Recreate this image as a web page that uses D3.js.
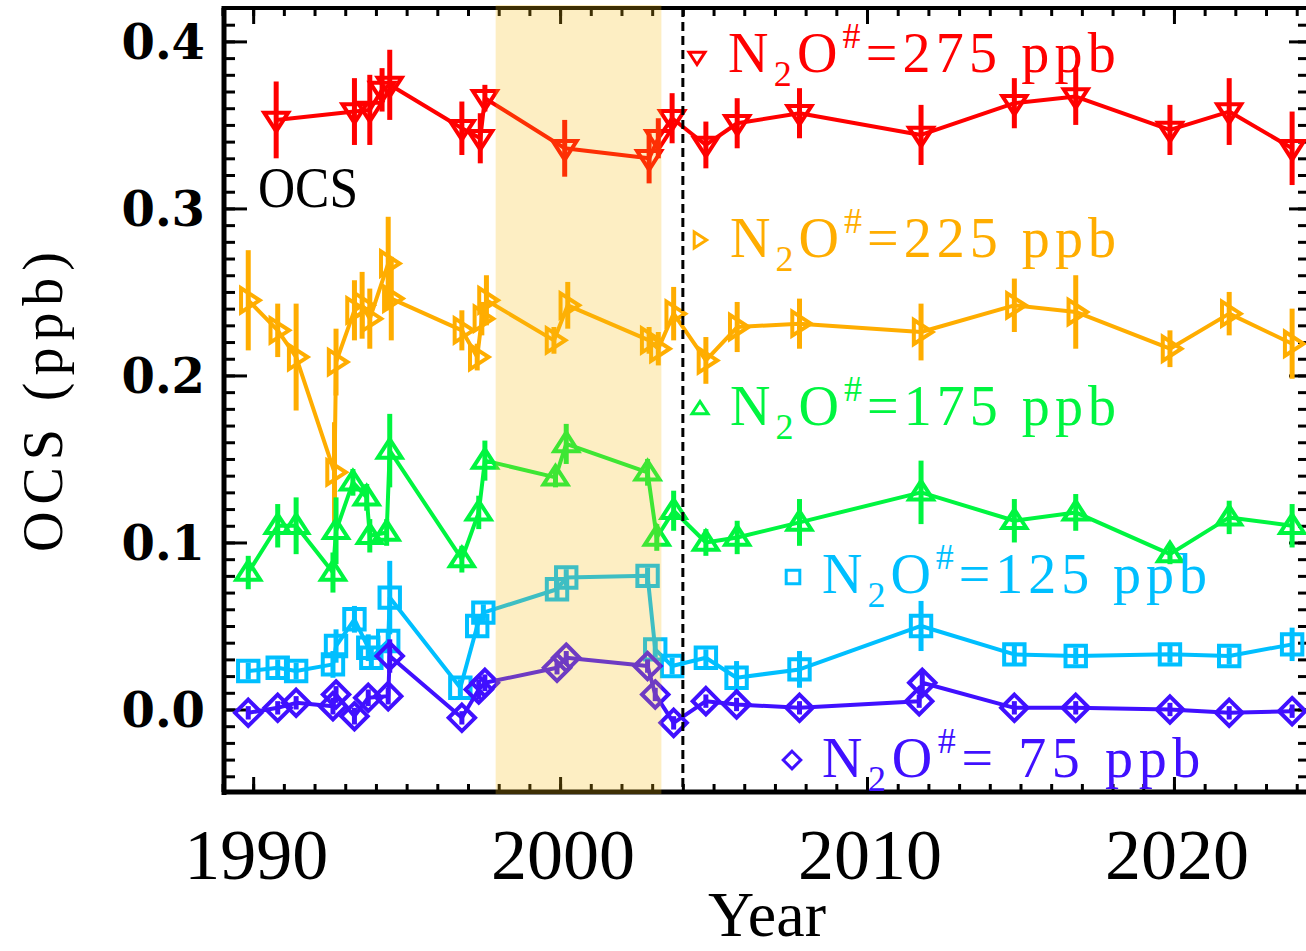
<!DOCTYPE html>
<html>
<head>
<meta charset="utf-8">
<script src="https://cdn.jsdelivr.net/npm/d3@7/dist/d3.min.js"></script>
<style>
    body { margin: 0; background: #ffffff; }
    svg { display: block; }
</style>
</head>
<body>
<svg class="OcsChart" width="1306" height="951"></svg>
<script>
// OCS time series for five N2O# levels
const years275 = [1990.75, 1993.3, 1993.8, 1994.2, 1994.45, 1996.8, 1997.4, 1997.55, 2000.15, 2002.9, 2003.2, 2003.65, 2004.75, 2005.77, 2007.8, 2011.76, 2014.8, 2016.8, 2019.87, 2021.8, 2023.85];
const ocs275 = [0.353, 0.358, 0.359, 0.371, 0.374, 0.348, 0.342, 0.366, 0.336, 0.330, 0.342, 0.354, 0.338, 0.351, 0.357, 0.344, 0.363, 0.367, 0.347, 0.358, 0.336];
const err275 = [0.023, 0.020, 0.021, 0.013, 0.021, 0.016, 0.015, 0.008, 0.017, 0.015, 0.012, 0.015, 0.014, 0.015, 0.015, 0.018, 0.015, 0.017, 0.015, 0.020, 0.022];

const years225 = [1989.84, 1990.8, 1991.4, 1992.65, 1992.7, 1993.3, 1993.55, 1993.8, 1994.4, 1994.5, 1996.8, 1997.3, 1997.45, 1997.6, 1999.8, 2000.25, 2002.9, 2003.2, 2003.7, 2004.75, 2005.77, 2007.8, 2011.76, 2014.8, 2016.8, 2019.87, 2021.8, 2023.85];
const ocs225 = [0.245, 0.227, 0.211, 0.142, 0.208, 0.239, 0.242, 0.234, 0.267, 0.246, 0.227, 0.211, 0.234, 0.245, 0.221, 0.242, 0.221, 0.216, 0.237, 0.209, 0.229, 0.231, 0.226, 0.242, 0.238, 0.216, 0.237, 0.219];
const err225 = [0.030, 0.016, 0.032, 0.030, 0.020, 0.018, 0.020, 0.018, 0.028, 0.025, 0.012, 0.008, 0.010, 0.015, 0.008, 0.014, 0.008, 0.010, 0.016, 0.014, 0.015, 0.015, 0.017, 0.016, 0.022, 0.011, 0.013, 0.021];

const years175 = [1989.84, 1990.8, 1991.4, 1992.6, 1992.7, 1993.25, 1993.7, 1993.8, 1994.35, 1994.45, 1996.8, 1997.35, 1997.55, 1999.85, 2000.2, 2002.85, 2003.15, 2003.7, 2004.75, 2005.77, 2007.8, 2011.76, 2014.8, 2016.8, 2019.87, 2021.8, 2023.85];
const ocs175 = [0.082, 0.110, 0.110, 0.082, 0.107, 0.136, 0.127, 0.104, 0.106, 0.155, 0.090, 0.118, 0.149, 0.139, 0.159, 0.142, 0.103, 0.119, 0.100, 0.103, 0.112, 0.130, 0.113, 0.118, 0.093, 0.115, 0.110];
const err175 = [0.010, 0.013, 0.017, 0.012, 0.020, 0.008, 0.008, 0.010, 0.008, 0.022, 0.008, 0.010, 0.012, 0.006, 0.012, 0.008, 0.008, 0.012, 0.008, 0.010, 0.014, 0.019, 0.013, 0.011, 0.006, 0.010, 0.013];

const years125 = [1989.84, 1990.8, 1991.4, 1992.6, 1992.7, 1993.3, 1993.75, 1993.85, 1994.4, 1994.45, 1996.75, 1997.3, 1997.5, 1999.9, 2000.2, 2002.85, 2003.1, 2003.65, 2004.75, 2005.75, 2007.8, 2011.76, 2014.8, 2016.8, 2019.87, 2021.8, 2023.85];
const ocs125 = [0.023, 0.025, 0.023, 0.027, 0.038, 0.054, 0.037, 0.031, 0.041, 0.067, 0.013, 0.050, 0.058, 0.072, 0.079, 0.080, 0.036, 0.026, 0.031, 0.019, 0.024, 0.050, 0.033, 0.032, 0.033, 0.032, 0.039];
const err125 = [0.005, 0.005, 0.005, 0.008, 0.010, 0.008, 0.008, 0.006, 0.006, 0.022, 0.005, 0.006, 0.005, 0.006, 0.005, 0.005, 0.005, 0.005, 0.005, 0.010, 0.011, 0.015, 0.006, 0.005, 0.005, 0.005, 0.010];

const years75 = [1989.84, 1990.8, 1991.4, 1992.6, 1992.7, 1993.3, 1993.75, 1994.4, 1994.45, 1996.8, 1997.35, 1997.55, 1999.9, 2000.2, 2002.85, 2003.1, 2003.7, 2004.75, 2005.75, 2007.8, 2011.7, 2011.8, 2014.8, 2016.8, 2019.87, 2021.8, 2023.85];
const ocs75 = [-0.002, 0.001, 0.004, 0.002, 0.009, -0.004, 0.007, 0.008, 0.032, -0.005, 0.012, 0.016, 0.025, 0.031, 0.026, 0.009, -0.008, 0.005, 0.003, 0.001, 0.005, 0.016, 0.001, 0.001, 0.000, -0.002, -0.001];
const err75 = [0.004, 0.004, 0.004, 0.005, 0.005, 0.005, 0.005, 0.005, 0.010, 0.004, 0.006, 0.005, 0.004, 0.004, 0.004, 0.004, 0.004, 0.004, 0.004, 0.004, 0.004, 0.008, 0.004, 0.004, 0.004, 0.004, 0.004];

const seriesNames = ['275', '225', '175', '125', ' 75'];
const xTicks = [1990, 2000, 2010, 2020];
const yTicks = [0.0, 0.1, 0.2, 0.3, 0.4];
const shadeYears = [1997.9, 2003.3];
const dashYear = 2004;

function buildSeries(years, values, errs)
{
    let out = [];
    for(let i = 0; i < years.length; i++){
        out.push({ "year": years[i], "value": values[i], "err": errs[i] });
    }
    return out;
}

function symbolPath(kind, s)
{
    if(kind == 'down') return `M${-s},${-s*0.6}L${s},${-s*0.6}L0,${s*0.95}Z`;
    if(kind == 'right') return `M${-s*0.6},${-s}L${-s*0.6},${s}L${s*0.95},0Z`;
    if(kind == 'up') return `M${-s},${s*0.6}L${s},${s*0.6}L0,${-s*0.95}Z`;
    if(kind == 'square') return `M${-s*0.85},${-s*0.85}H${s*0.85}V${s*0.85}H${-s*0.85}Z`;
    return `M0,${-s*1.1}L${s*1.1},0L0,${s*1.1}L${-s*1.1},0Z`;
}

function render()
{
    const svg = d3.select('.OcsChart');
    const plot = { 'left': 224, 'right': 1309, 'top': 8, 'bottom': 792 };

    const xScale = d3.scaleLinear()
        .domain([1989.05, 2024.4])
        .range([plot.left, plot.right]);

    const yScale = d3.scaleLinear()
        .domain([-0.05, 0.42])
        .range([plot.bottom + 1, plot.top]);

    const series = [
        { name: seriesNames[0], color: '#ff0000', sym: 'down', data: buildSeries(years275, ocs275, err275), lx: 697, ly: 57, tx: 728, ty: 72, tw: 393 },
        { name: seriesNames[1], color: '#ffad00', sym: 'right', data: buildSeries(years225, ocs225, err225), lx: 699, ly: 240, tx: 730, ty: 257, tw: 391 },
        { name: seriesNames[2], color: '#00f540', sym: 'up', data: buildSeries(years175, ocs175, err175), lx: 700, ly: 409, tx: 730, ty: 425, tw: 391 },
        { name: seriesNames[3], color: '#00bfff', sym: 'square', data: buildSeries(years125, ocs125, err125), lx: 793, ly: 577, tx: 822, ty: 593, tw: 390 },
        { name: seriesNames[4], color: '#4010ff', sym: 'diamond', data: buildSeries(years75, ocs75, err75), lx: 792, ly: 760, tx: 822, ty: 777, tw: 384 }
    ];

    // ticks: minor every year / 0.01, major every decade / 0.1
    const minorYears = d3.range(1989, 2025);
    const minorOcs = d3.range(-4, 42).map(d => d / 100);

    svg.append('g')
        .attr('transform', `translate(0, ${plot.bottom})`)
        .call(d3.axisBottom(xScale).tickValues(minorYears).tickSize(-8).tickFormat(''));
    svg.append('g')
        .attr('transform', `translate(0, ${plot.bottom})`)
        .call(d3.axisBottom(xScale).tickValues(xTicks).tickSize(-15).tickFormat(''));
    svg.append('g')
        .attr('transform', `translate(0, ${plot.top})`)
        .call(d3.axisTop(xScale).tickValues(minorYears).tickSize(-8).tickFormat(''));
    svg.append('g')
        .attr('transform', `translate(0, ${plot.top})`)
        .call(d3.axisTop(xScale).tickValues(xTicks).tickSize(-16).tickFormat(''));
    svg.append('g')
        .attr('transform', `translate(${plot.left}, 0)`)
        .call(d3.axisLeft(yScale).tickValues(minorOcs).tickSize(-11).tickFormat(''));
    svg.append('g')
        .attr('transform', `translate(${plot.left}, 0)`)
        .call(d3.axisLeft(yScale).tickValues(yTicks).tickSize(-23).tickFormat(''));
    svg.append('g')
        .attr('transform', `translate(${plot.right}, 0)`)
        .call(d3.axisRight(yScale).tickValues(minorOcs).tickSize(-11).tickFormat(''));
    svg.append('g')
        .attr('transform', `translate(${plot.right}, 0)`)
        .call(d3.axisRight(yScale).tickValues(yTicks).tickSize(-20).tickFormat(''));

    svg.selectAll('.domain').remove();
    svg.selectAll('.tick line').attr('stroke', '#000').attr('stroke-width', 3);

    // frame
    svg.append('line').attr('x1', plot.left).attr('x2', plot.left).attr('y1', plot.top - 2).attr('y2', plot.bottom + 3)
        .attr('stroke', '#000').attr('stroke-width', 5);
    svg.append('line').attr('x1', plot.left - 2).attr('x2', plot.right).attr('y1', plot.bottom).attr('y2', plot.bottom)
        .attr('stroke', '#000').attr('stroke-width', 5);
    svg.append('line').attr('x1', plot.left - 2).attr('x2', plot.right).attr('y1', plot.top).attr('y2', plot.top)
        .attr('stroke', '#000').attr('stroke-width', 4);

    // series
    const line = d3.line()
        .x(d => xScale(d.year))
        .y(d => yScale(d.value));

    for(let s of series){
        const g = svg.append('g');
        g.append('path')
            .datum(s.data)
            .attr('fill', 'none')
            .attr('stroke', s.color)
            .attr('stroke-width', 4)
            .attr('stroke-linejoin', 'round')
            .attr('d', line);

        g.selectAll()
            .data(s.data)
            .enter()
            .append('line')
            .attr('x1', d => xScale(d.year))
            .attr('x2', d => xScale(d.year))
            .attr('y1', d => yScale(d.value - d.err))
            .attr('y2', d => yScale(d.value + d.err))
            .attr('stroke', s.color)
            .attr('stroke-width', 5);

        g.selectAll()
            .data(s.data)
            .enter()
            .append('path')
            .attr('transform', d => `translate(${xScale(d.year)}, ${yScale(d.value)})`)
            .attr('d', symbolPath(s.sym, 12))
            .attr('fill', 'none')
            .attr('stroke', s.color)
            .attr('stroke-width', 4);
    }

    // shaded period drawn as a translucent overlay
    svg.append('rect')
        .attr('x', xScale(shadeYears[0]))
        .attr('y', plot.top - 3)
        .attr('width', xScale(shadeYears[1]) - xScale(shadeYears[0]))
        .attr('height', plot.bottom - plot.top + 5)
        .attr('fill', '#f7bd10')
        .attr('opacity', 0.25);

    svg.append('line')
        .attr('x1', xScale(dashYear))
        .attr('x2', xScale(dashYear))
        .attr('y1', plot.top)
        .attr('y2', plot.bottom)
        .attr('stroke', '#000')
        .attr('stroke-width', 3)
        .attr('stroke-dasharray', '9,5');

    // legend entries
    for(let s of series){
        svg.append('path')
            .attr('transform', `translate(${s.lx}, ${s.ly})`)
            .attr('d', symbolPath(s.sym, 8))
            .attr('fill', 'none')
            .attr('stroke', s.color)
            .attr('stroke-width', 3);

        const t = svg.append('text')
            .attr('x', s.tx)
            .attr('y', s.ty)
            .attr('fill', s.color)
            .style('font-family', 'Liberation Serif')
            .style('font-size', '56px');
        t.append('tspan').text('N');
        t.append('tspan').attr('dy', 14).style('font-size', '36px').text('2');
        t.append('tspan').attr('dy', -14).text('O');
        t.append('tspan').attr('dy', -24).style('font-size', '36px').text('#');
        t.append('tspan').attr('dy', 24).text(`=${s.name} ppb`);

        const natural = t.node().getComputedTextLength();
        const nChars = 12;
        t.style('letter-spacing', `${(s.tw - natural) / nChars}px`);
    }

    svg.append('text')
        .attr('x', 258)
        .attr('y', 207)
        .attr('textLength', 100)
        .attr('lengthAdjust', 'spacingAndGlyphs')
        .style('font-family', 'Liberation Serif')
        .style('font-size', '56px')
        .text('OCS');

    // tick labels
    svg.selectAll()
        .data(yTicks)
        .enter()
        .append('text')
        .attr('x', 205)
        .attr('y', d => yScale(d) + 18)
        .attr('text-anchor', 'end')
        .style('font-family', 'DejaVu Serif')
        .style('font-weight', 'bold')
        .style('font-size', '48px')
        .text(d => d.toFixed(1));

    svg.selectAll()
        .data(xTicks)
        .enter()
        .append('text')
        .attr('x', d => xScale(d) + 3)
        .attr('y', 879)
        .attr('text-anchor', 'middle')
        .style('font-family', 'Liberation Serif')
        .style('font-size', '72px')
        .text(d => d);

    svg.append('text')
        .attr('x', 767)
        .attr('y', 936)
        .attr('text-anchor', 'middle')
        .style('font-family', 'Liberation Serif')
        .style('font-size', '64px')
        .text('Year');

    svg.append('text')
        .attr('transform', 'translate(62, 402) rotate(-90)')
        .attr('text-anchor', 'middle')
        .attr('textLength', 300)
        .attr('lengthAdjust', 'spacing')
        .style('font-family', 'Liberation Serif')
        .style('font-size', '56px')
        .text('OCS (ppb)');
}

render();
</script>
</body>
</html>
